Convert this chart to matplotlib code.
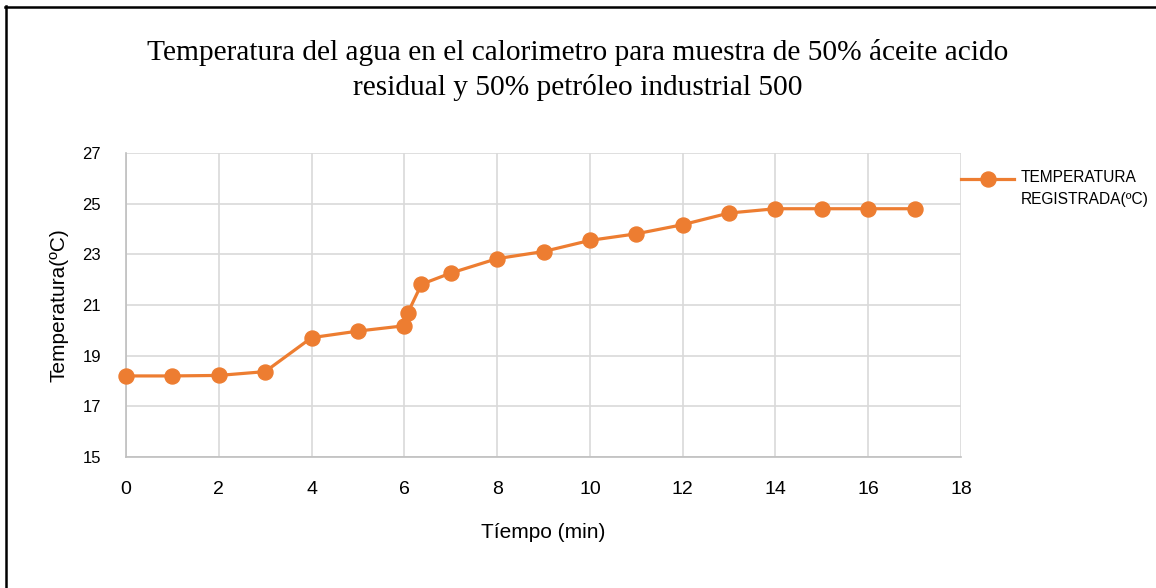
import matplotlib.pyplot as plt
from matplotlib.lines import Line2D

# Tiempo (min) y temperatura registrada (ºC)
tiempo = [0, 1, 2, 3, 4, 5, 6, 6.07, 6.37, 7, 8, 9, 10, 11, 12, 13, 14, 15, 16, 17]
temperatura = [18.2, 18.2, 18.22, 18.37, 19.71, 19.97, 20.18, 20.67, 21.82, 22.26,
               22.83, 23.11, 23.55, 23.81, 24.17, 24.63, 24.8, 24.8, 24.8, 24.8]
xticks = list(range(0, 19, 2))
yticks = list(range(15, 28, 2))

titulo = ("Temperatura del agua en el calorimetro para muestra de 50% áceite acido\n"
          "residual y 50% petróleo industrial 500")
serie = "TEMPERATURA\nREGISTRADA(ºC)"

naranja = "#ED7D31"
gris = "#D9D9D9"

fig = plt.figure(figsize=(11.56, 5.88), dpi=100)
ax = fig.add_axes([126 / 1156, 1 - 457 / 588, (961 - 126) / 1156, (457 - 153) / 588])

ax.plot(tiempo, temperatura, color=naranja, linewidth=2.3, marker="o",
        markersize=10.8, label=serie, zorder=3, clip_on=False)

ax.set_xlim(0, 18)
ax.set_ylim(15, 27)
ax.set_xticks(xticks)
ax.set_yticks(yticks)
ax.grid(True, color=gris, linewidth=1.2)
ax.set_axisbelow(True)
ax.tick_params(length=0)
ax.tick_params(axis="x", pad=17, labelsize=14)
ax.tick_params(axis="y", pad=18, labelsize=12)
for lbl in ax.get_xticklabels() + ax.get_yticklabels():
    lbl.set_fontfamily("Liberation Sans")
for s in ["top", "right"]:
    ax.spines[s].set_visible(False)
for s in ["left", "bottom"]:
    ax.spines[s].set_color("#BFBFBF")
    ax.spines[s].set_linewidth(1.2)

ax.set_xlabel("Tíempo (min)", fontsize=15, family="Liberation Sans", labelpad=18)
ax.set_ylabel("Temperatura(ºC)", fontsize=15, family="Liberation Sans", labelpad=10)

fig.text(0.5, 1 - 70 / 588, titulo, ha="center", va="center", fontsize=21.2,
         family="Liberation Serif", linespacing=1.37)

leg = ax.legend(loc="upper left", bbox_to_anchor=(955 / 1156, 1 - 157 / 588),
                bbox_transform=fig.transFigure, frameon=False, handlelength=3.4,
                handleheight=5.08, handletextpad=0.45,
                prop={"family": "Liberation Sans", "size": 11.2}, borderaxespad=0)
for t in leg.get_texts():
    t.set_linespacing(1.52)

# marco de la figura (solo arriba e izquierda)
fig.add_artist(Line2D([5 / 1156, 1], [1 - 6.5 / 588, 1 - 6.5 / 588],
                      transform=fig.transFigure, color="black", linewidth=1.8))
fig.add_artist(Line2D([6 / 1156, 6 / 1156], [0, 1 - 6 / 588],
                      transform=fig.transFigure, color="black", linewidth=1.8))

fig.savefig("out.png", dpi=100)
